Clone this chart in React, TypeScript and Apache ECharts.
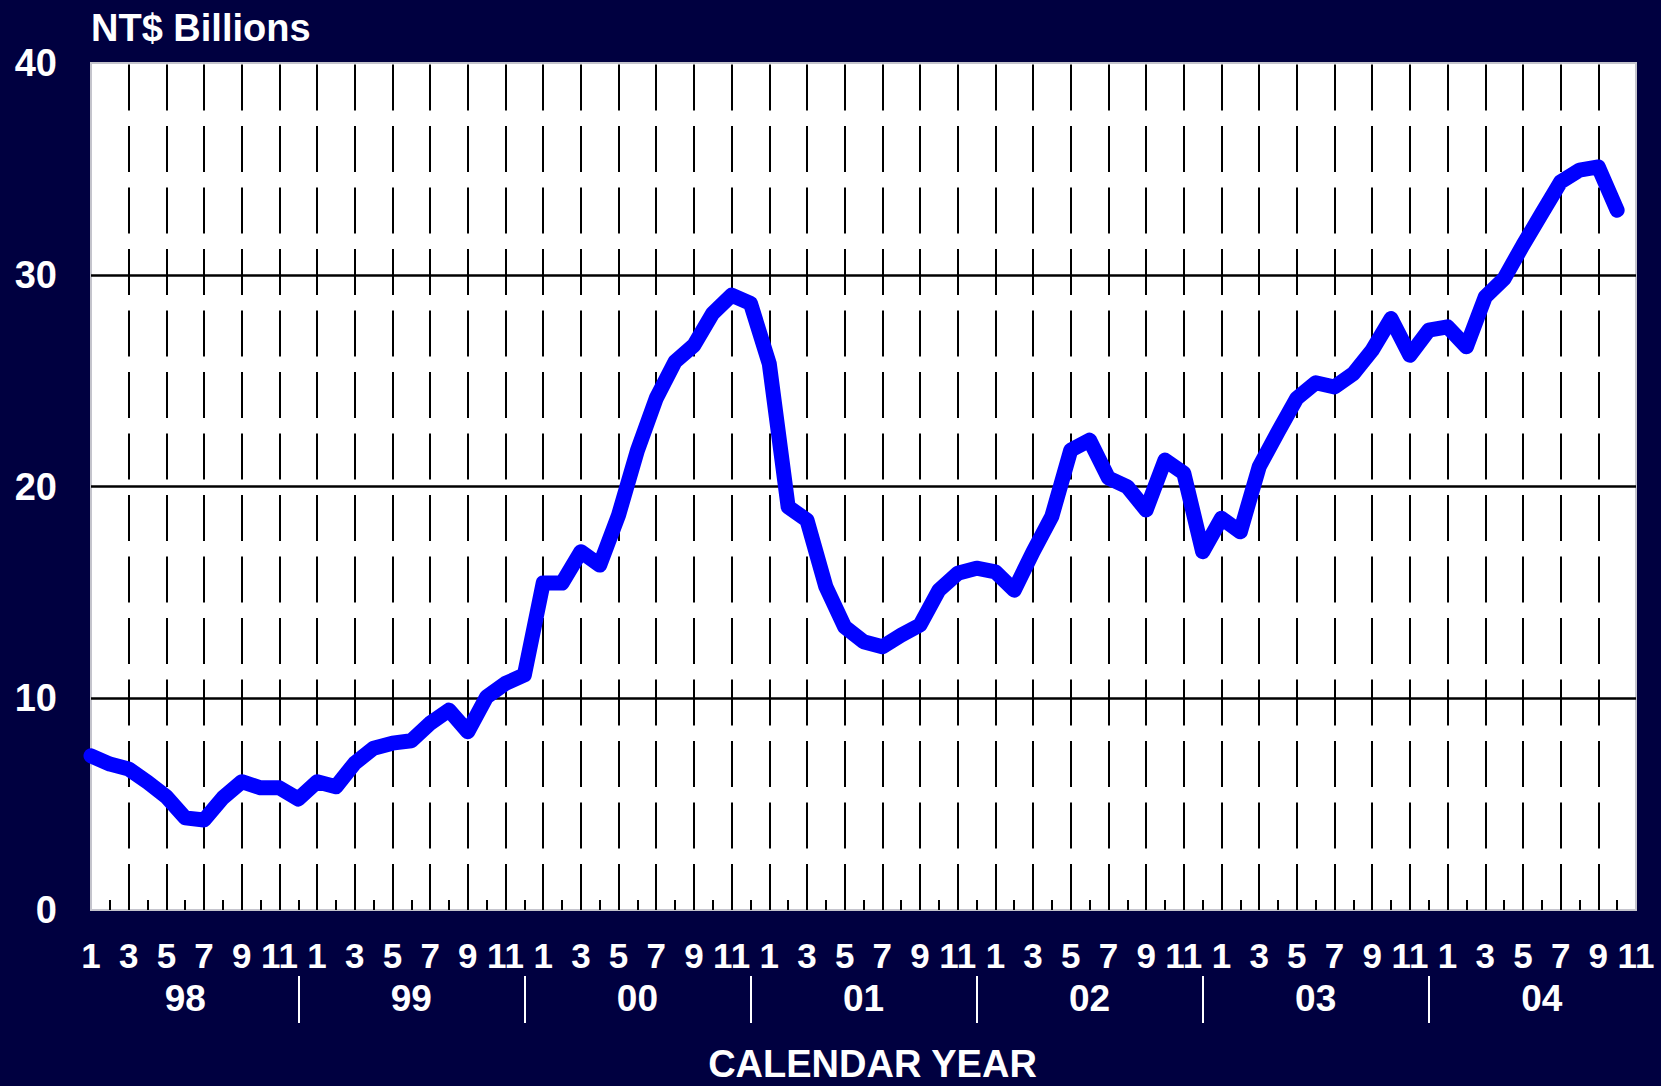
import React, { useEffect, useRef } from "react";
import * as echarts from "echarts";

// Months from Jan 1998 to Nov 2004 (axis categories)
const years = ["98", "99", "00", "01", "02", "03", "04"];
const months: string[] = [];
years.forEach((y) => {
  for (let m = 1; m <= 12; m++) {
    if (y === "04" && m > 11) break;
    months.push(`${y}-${m}`);
  }
});

// NT$ Billions, monthly, Jan 1998 – Oct 2004
const values = [
  7.28, 6.89, 6.66, 6.04, 5.35, 4.35, 4.25, 5.3, 6.06, 5.77, 5.77, 5.24,
  6.06, 5.82, 6.94, 7.64, 7.88, 7.99, 8.82, 9.44, 8.42, 10.07, 10.7, 11.1,
  15.44, 15.44, 16.92, 16.29, 18.65, 21.7, 24.17, 25.9, 26.67, 28.18, 29.04, 28.65,
  25.8, 19.04, 18.41, 15.27, 13.37, 12.67, 12.43, 12.98, 13.46, 15.1, 15.9, 16.14,
  15.97, 15.1, 16.92, 18.6, 21.72, 22.19, 20.4, 19.99, 18.89, 21.25, 20.63, 16.92,
  18.5, 17.86, 20.93, 22.58, 24.17, 24.9, 24.7, 25.33, 26.44, 27.93, 26.2, 27.38,
  27.54, 26.6, 28.96, 29.82, 31.4, 32.9, 34.39, 34.94, 35.09, 33.05,
];

const yTicks = { min: 0, max: 40, interval: 10 };
const FONT = "'Liberation Sans', Arial, sans-serif";
const BG = "#000040";

export default function App() {
  const ref = useRef<HTMLDivElement>(null);

  useEffect(() => {
    if (!ref.current) return;
    const chart = echarts.init(ref.current, null, { renderer: "svg" });
    const last = months.length - 1;
    chart.setOption({
      animation: false,
      backgroundColor: BG,
      title: {
        text: "NT$ Billions",
        left: 86,
        top: 4,
        textStyle: { color: "#fff", fontSize: 38, fontWeight: "bold", fontFamily: FONT },
      },
      grid: {
        left: 91,
        right: 25,
        top: 63,
        bottom: 176,
        show: true,
        containLabel: false,
        outerBoundsMode: "none",
        backgroundColor: "#ffffff",
        borderColor: "#c4c4cc",
        borderWidth: 2,
      },
      xAxis: [
        {
          type: "category",
          data: months,
          boundaryGap: false,
          position: "bottom",
          axisLine: { show: false },
          axisTick: {
            show: true,
            inside: true,
            length: 10,
            interval: (i: number) => i % 2 === 1,
            lineStyle: { color: "#000", width: 2 },
          },
          axisLabel: {
            interval: (i: number) => i % 2 === 0,
            formatter: (v: string) => v.split("-")[1],
            color: "#fff",
            fontSize: 35,
            fontWeight: "bold",
            fontFamily: FONT,
            margin: 28,
          },
          splitLine: {
            show: true,
            interval: (i: number) => i % 2 === 0 && i !== 0 && i !== last,
            lineStyle: { color: "#000", width: 2, type: [46, 15.5], dashOffset: 59.5 },
          },
        },
        {
          type: "category",
          data: months,
          boundaryGap: false,
          position: "bottom",
          offset: 66,
          axisLine: { show: false },
          axisTick: {
            show: true,
            inside: false,
            length: 47,
            interval: (i: number) => i % 12 === 11 && i < last,
            lineStyle: { color: "#fff", width: 2 },
          },
          axisLabel: {
            interval: (i: number) => i % 12 === 5,
            formatter: (v: string) => v.split("-")[0],
            color: "#fff",
            fontSize: 37,
            fontWeight: "bold",
            fontFamily: FONT,
            margin: 4,
          },
          splitLine: { show: false },
          name: "CALENDAR YEAR",
          nameLocation: "middle",
          nameGap: 69,
          nameTextStyle: {
            color: "#fff",
            fontSize: 38,
            fontWeight: "bold",
            fontFamily: FONT,
            padding: [0, 0, 0, 18],
          },
        },
      ],
      yAxis: {
        type: "value",
        min: yTicks.min,
        max: yTicks.max,
        interval: yTicks.interval,
        axisLine: { show: false },
        axisTick: { show: false },
        axisLabel: {
          color: "#fff",
          fontSize: 38,
          fontWeight: "bold",
          fontFamily: FONT,
          margin: 34,
        },
        splitLine: {
          show: true,
          showMinLine: false,
          showMaxLine: false,
          lineStyle: { color: "#000", width: 2.5 },
        },
      },
      series: [
        {
          type: "line",
          xAxisIndex: 0,
          data: values,
          symbol: "none",
          z: 10,
          lineStyle: { color: "#0000ff", width: 15, cap: "round", join: "round" },
        },
      ],
    });
    return () => chart.dispose();
  }, []);

  return (
    <div
      ref={ref}
      style={{ position: "fixed", left: 0, top: 0, width: 1661, height: 1086 }}
    />
  );
}
